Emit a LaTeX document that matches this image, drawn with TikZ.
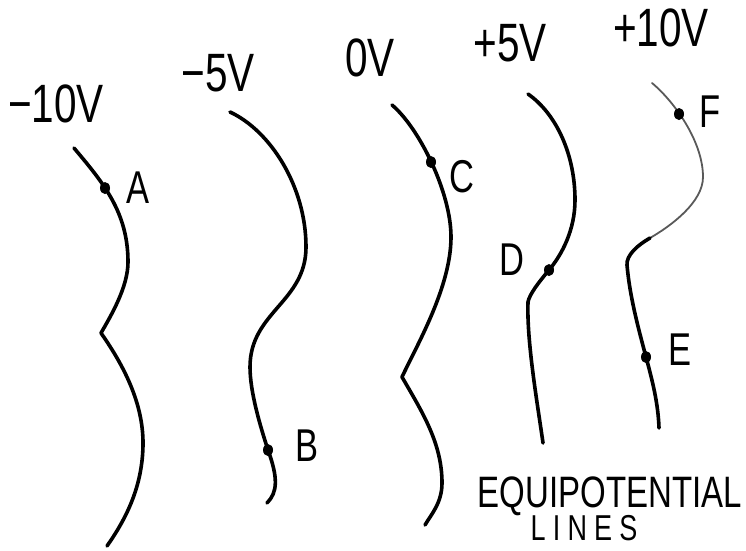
\documentclass[tikz,border=0pt]{standalone}
\usepackage{fontspec}
\usetikzlibrary{shapes.geometric}
\newfontfamily\hand[FakeStretch=0.75]{Liberation Sans}
\begin{document}
\begin{tikzpicture}[x=1pt, y=-1pt, line join=round, line cap=round]
	\tikzset{
	eqline/.style={black, line width=3.6pt},
	faint/.style={black!65, line width=1.8pt},
	dot/.style={ellipse, fill=black, inner sep=0pt, minimum width=10pt, minimum height=12pt},
	volt/.style={inner sep=0pt, font=\hand\fontsize{54}{60}\selectfont},
	ptname/.style={inner sep=0pt, font=\hand\fontsize{46}{50}\selectfont},
	capt/.style={inner sep=0pt, font=\hand\fontsize{44}{48}\selectfont}
	}
	\useasboundingbox (0,0) rectangle (746,550);
	\draw[eqline] (74,148) .. controls +(50:45) and +(-90:50) .. (128,262)
	.. controls +(90:25) and +(-60:20) .. (101,333)
	.. controls +(55:40) and +(-90:40) .. (143,443)
	.. controls +(90:45) and +(-55:30) .. (107,546);
	\draw[eqline] (230,112) .. controls +(25:45) and +(-90:60) .. (306,247)
	.. controls +(90:55) and +(-90:55) .. (250,367)
	.. controls +(90:25) and +(-108:25) .. (268,450)
	.. controls +(70:30) and +(-45:15) .. (267,503);
	\draw[eqline] (392,105) .. controls +(40:35) and +(-90:45) .. (451,237)
	.. controls +(90:50) and +(-65:35) .. (402,377)
	.. controls +(60:40) and +(-90:40) .. (442,483)
	.. controls +(90:20) and +(-60:12) .. (425,525);
	\draw[eqline] (528,94) .. controls +(35:35) and +(-90:45) .. (575,200)
	.. controls +(90:30) and +(-50:20) .. (549,270)
	.. controls +(130:15) and +(-80:8) .. (528,302)
	.. controls +(92:40) and +(-98:40) .. (543,443);
	\draw[faint] (652,83) .. controls +(40:30) and +(-90:35) .. (703,177)
	.. controls +(90:25) and +(-30:25) .. (650,238);
	\draw[eqline] (650,238) .. controls +(150:14) and +(-95:10) .. (627,265)
	.. controls +(85:30) and +(-105:35) .. (646,357)
	.. controls +(75:25) and +(-92:25) .. (659,428);

	\node[dot] (A) at (105,188) {};
	\node[dot] (B) at (268,450) {};
	\node[dot] (C) at (431,162) {};
	\node[dot] (D) at (549,270) {};
	\node[dot] (E) at (646,357) {};
	\node[dot] (F) at (679,114) {};
	\node[ptname] (lA) at (138,188) {A};
	\node[ptname] (lB) at (307,446) {B};
	\node[ptname] (lC) at (462,177) {C};
	\node[ptname] (lD) at (512,260) {D};
	\node[ptname] (lE) at (680,350) {E};
	\node[ptname] (lF) at (710,112) {F};

	\node[volt] (m10) at (56,104) {−10V};
	\node[volt] (m5) at (218,73) {−5V};
	\node[volt] (z0) at (370,58) {0V};
	\node[volt] (p5) at (510,43) {+5V};
	\node[volt] (p10) at (661,28) {+10V};
	\node[capt] (eq) at (610,496) {EQUIPOTENTIAL};
	\node[capt, font=\hand\fontsize{36}{40}\selectfont\addfontfeature{LetterSpace=20}] (ln) at (584,528) {LINES};
\end{tikzpicture}
\end{document}
